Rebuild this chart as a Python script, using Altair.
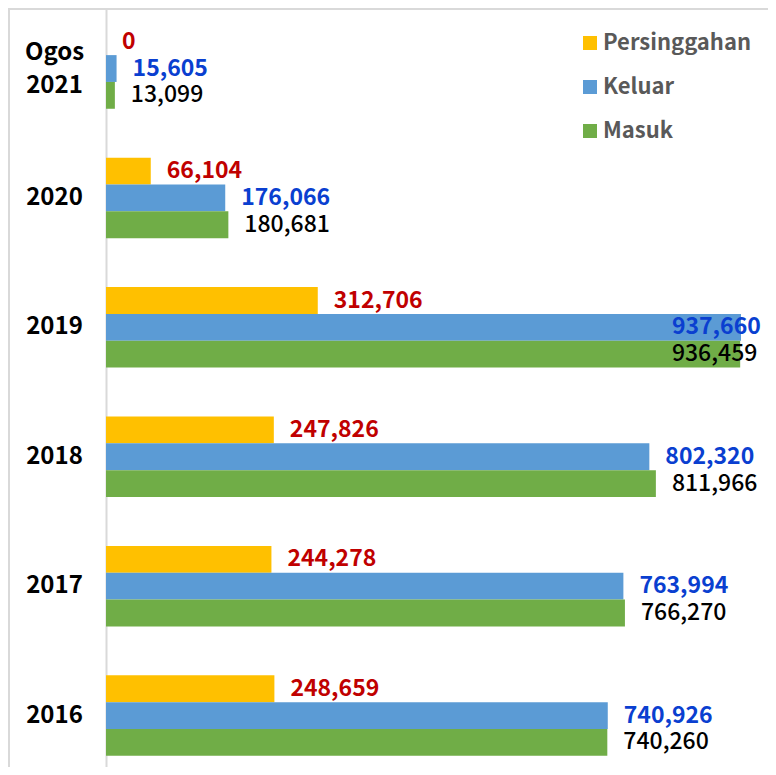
import altair as alt
import pandas as pd

years = ["Ogos 2021", "2020", "2019", "2018", "2017", "2016"]
series = ["Persinggahan", "Keluar", "Masuk"]
persinggahan = [0, 66104, 312706, 247826, 244278, 248659]
keluar = [15605, 176066, 937660, 802320, 763994, 740926]
masuk = [13099, 180681, 936459, 811966, 766270, 740260]

bar_colors = ["#FFC000", "#5B9BD5", "#70AD47"]
label_colors = {"Persinggahan": "#C00000", "Keluar": "#0A3FD0", "Masuk": "#000000"}
label_weights = {"Persinggahan": 600, "Keluar": 600, "Masuk": 500}

rows = []
for name, vals in zip(series, [persinggahan, keluar, masuk]):
    for y, v in zip(years, vals):
        rows.append({"year": y, "series": name, "value": v})
df = pd.DataFrame(rows)

FONT = "Noto Sans CJK JP"

yenc = alt.Y(
    "year:N",
    sort=years,
    scale=alt.Scale(paddingInner=0.378, paddingOuter=0.1217, align=0.644),
    axis=alt.Axis(
        title=None,
        ticks=False,
        domain=True,
        domainColor="#D9D9D9",
        domainWidth=2,
        labelAlign="center",
        labelPadding=52,
        labelFont=FONT,
        labelFontSize=24,
        labelFontWeight="bold",
        labelColor="#000000",
        labelLineHeight=33,
        labelOffset={"condition": {"test": "datum.value === 'Ogos 2021'", "value": -16}, "value": 0},
        labelExpr="split(datum.label, ' ')",
    ),
)
yoff = alt.YOffset("series:N", sort=series, scale=alt.Scale(paddingInner=0, paddingOuter=0))
xscale = alt.Scale(domain=[0, 977530], nice=False, zero=True)

base = alt.Chart(df)

bars = base.mark_bar(cornerRadius=0).encode(
    y=yenc,
    yOffset=yoff,
    x=alt.X("value:Q", scale=xscale, axis=None),
    color=alt.Color(
        "series:N",
        sort=series,
        scale=alt.Scale(domain=series, range=bar_colors),
        legend=alt.Legend(
            title=None,
            orient="none",
            legendX=473,
            legendY=24,
            symbolType="square",
            symbolSize=196,
            symbolStrokeWidth=0,
            labelFont=FONT,
            labelFontSize=22,
            labelFontWeight="bold",
            labelColor="#595959",
            labelOffset=2,
            rowPadding=22,
            labelLimit=400,
        ),
    ),
)

texts = []
for name in series:
    t = (
        base.transform_filter(alt.datum.series == name)
        .transform_calculate(xl="min(datum.value, 812000)")
        .mark_text(
            align="left",
            baseline="middle",
            dx=16,
            font=FONT,
            fontSize=23,
            fontWeight=label_weights[name],
            color=label_colors[name],
        )
        .encode(
            y=yenc,
            yOffset=yoff,
            x=alt.X("xl:Q", scale=xscale, axis=None),
            text=alt.Text("value:Q", format=",d"),
        )
    )
    texts.append(t)

left_border = alt.Chart(df).mark_rule(color="#D9D9D9", strokeWidth=2).encode(
    x=alt.value(-97), y=alt.value(0), y2=alt.value(759)
)
top_border = alt.Chart(df).mark_rule(color="#D9D9D9", strokeWidth=2).encode(
    x=alt.value(-97), x2=alt.value(662), y=alt.value(1)
)

chart = (
    alt.layer(bars, *texts, left_border, top_border)
    .properties(
        width=662,
        height=759,
        padding={"left": 98, "top": 0, "right": 0, "bottom": 0},
        autosize=alt.AutoSizeParams(type="none"),
    )
    .configure_view(stroke=None)
)

chart.save("out.html", embed_options={"renderer": "svg", "actions": False})
